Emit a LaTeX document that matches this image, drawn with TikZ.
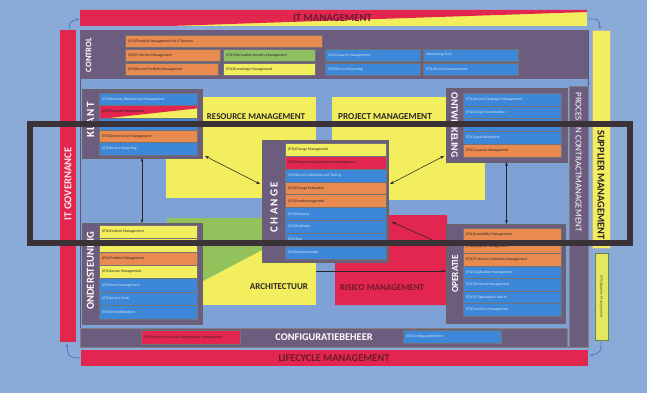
\documentclass[tikz,border=0pt]{standalone}
\usepackage{fontspec}
\setmainfont{Carlito}
\usetikzlibrary{arrows.meta}
\definecolor{bgblue}{HTML}{8AABD8}
\definecolor{inblue}{HTML}{7EA2D6}
\definecolor{frameline}{HTML}{5C5670}
\definecolor{plum}{HTML}{6C5C7E}
\definecolor{itred}{HTML}{E2264F}
\definecolor{ityellow}{HTML}{F3EE5E}
\definecolor{itorange}{HTML}{E98A50}
\definecolor{itblue}{HTML}{3D87D8}
\definecolor{itgreen}{HTML}{90C064}
\definecolor{areagreen}{HTML}{93C25C}
\definecolor{bandgrey}{HTML}{3A3236}
\definecolor{darktext}{HTML}{2B2526}
\definecolor{maroon}{HTML}{6B1A2C}
\definecolor{celltextlight}{HTML}{D9E7F7}
\definecolor{cyclearrow}{HTML}{4D78C2}

% one process cell: name, x, y, width, height, style, text
\newcommand{\itilcell}[7]{%
  \node[cellbox,#6,minimum width=#4,minimum height=#5] (#1) at (#2,#3)
    {\makebox[#4pt][l]{\hspace{3pt}#7}};}

\begin{document}
\begin{tikzpicture}[x=1pt,y=-1pt,
  plate/.style={anchor=north west,inner sep=0,outer sep=0},
  cellbox/.style={plate,draw=black!55,line width=0.3pt,
    font=\fontsize{3.8}{4}\selectfont,text=darktext},
  cor/.style={fill=itorange},
  cye/.style={fill=ityellow},
  cbl/.style={fill=itblue,text=celltextlight},
  cgr/.style={fill=itgreen},
  crd/.style={fill=itred},
  groupbox/.style={plate,fill=plum,draw=black!60,line width=0.5pt},
  vlabel/.style={text=white,font=\bfseries\fontsize{#1}{#1}\selectfont,inner sep=0},
  darklabel/.style={text=darktext,font=\bfseries\fontsize{#1}{#1}\selectfont,inner sep=0},
  redlabel/.style={text=maroon,font=\bfseries\fontsize{#1}{#1}\selectfont,inner sep=0},
  link/.style={draw=black!85,line width=0.55pt,
    arrows={Stealth[length=4pt,width=2.8pt]-Stealth[length=4pt,width=2.8pt]}},
  onelink/.style={draw=black!85,line width=0.55pt,
    arrows={-Stealth[length=4pt,width=2.8pt]}},
  cyclelink/.style={draw=cyclearrow,line width=0.8pt,
    arrows={-Stealth[length=3pt,width=2.6pt]}},
]
\useasboundingbox (0,0) rectangle (647,393);
\fill[bgblue] (0,0) rectangle (647,393);

% main frame with control band
\node[plate,fill=inblue,draw=frameline,line width=0.8pt,minimum width=508,minimum height=317] (frame) at (80,30) {};
\node[plate,fill=plum,minimum width=508,minimum height=49] (control) at (80,30) {};
\node[vlabel=8.5,rotate=90] (controllbl) at (88.5,55) {CONTROL};

\itilcell{f1}{125}{35}{197}{12}{cor}{(ITIL)Financial Management for IT Services}
\itilcell{f2}{125}{49}{95}{12}{cor}{(ITIL)IT Service Management}
\itilcell{f3}{223}{49}{92}{12}{cgr}{(ITIL)Information Security Management}
\itilcell{f4}{325}{49}{95}{12}{cbl}{(ITIL)Capacity Management}
\itilcell{f5}{423}{49}{95}{12}{cbl}{Monitoring Tools}
\itilcell{f6}{125}{63}{93}{12.5}{cor}{(ITIL)Service Portfolio Management}
\itilcell{f7}{223}{63}{92}{12.5}{cye}{(ITIL)Knowledge Management}
\itilcell{f8}{325}{63}{95}{12.5}{cbl}{(ITIL)Service Reporting}
\itilcell{f9}{423}{63}{95}{12.5}{cbl}{(ITIL)Service Measurement}

% coloured areas
\node[plate,fill=ityellow,minimum width=150,minimum height=101] (resource) at (166,97) {};
\node[plate,fill=ityellow,minimum width=153,minimum height=103] (project) at (332,97) {};
\node[plate,fill=ityellow,minimum width=114,minimum height=60] (archi) at (202,245) {};
\fill[areagreen] (167,218) -- (262,218) -- (262,250) -- (167,300) -- cycle;
\fill[itred] (388,215) -- (447,215) -- (447,305) -- (335,305) -- (335,262) -- (388,262) -- cycle;

\node[darklabel=8.9,anchor=base] (resourcelbl) at (256,120) {RESOURCE MANAGEMENT};
\node[darklabel=9.2,anchor=base] (projectlbl) at (385,120) {PROJECT MANAGEMENT};
\node[darklabel=9] (archilbl) at (279,287) {ARCHITECTUUR};
\node[redlabel=9] (risklbl) at (382,288) {RISICO MANAGEMENT};

% process and contract column, configuration band
\node[plate,fill=plum,draw=black!50,line width=0.4pt,minimum width=19,minimum height=261] (proces) at (569,86) {};
\node[rotate=-90,text=white,font=\fontsize{9}{9}\selectfont,inner sep=0] (proceslbl) at (578.5,162) {PROCES EN CONTRACTMANAGEMENT};
\node[plate,fill=plum,draw=black!50,line width=0.4pt,minimum width=487,minimum height=19] (config) at (80,328) {};
\node[vlabel=10.3] (configlbl) at (324,337.5) {CONFIGURATIEBEHEER};
\itilcell{cfg1}{141}{330}{99}{14}{crd}{(ITIL)Service Asset and Configuration Management}
\itilcell{cfg2}{403}{330}{98}{13}{cbl}{(ITIL)Configuratiebeheer}

% KLANT
\node[groupbox,minimum width=120,minimum height=69] (klant) at (82,89) {};
\node[vlabel=11,rotate=90] (klantlbl) at (90.5,120) {\addfontfeature{LetterSpace=12}KLANT};
\itilcell{k1}{99}{93}{98}{12.4}{cbl}{(ITIL)Business Relationship Management}
\itilcell{k2}{99}{105.4}{98}{12.4}{cye,path picture={\fill[itred] (path picture bounding box.north west) -- (path picture bounding box.north east) -- ([yshift=-3pt]path picture bounding box.north east) -- ([xshift=12pt]path picture bounding box.south west) -- (path picture bounding box.south west) -- cycle;}}{(ITIL)Demand Management}
\itilcell{k3}{99}{117.8}{98}{12.4}{cbl}{(ITIL)Service Catalogue Management}
\itilcell{k4}{99}{130.2}{98}{12.4}{cor}{(ITIL)Service Level Management}
\itilcell{k5}{99}{142.6}{98}{12.4}{cbl}{(ITIL)Service Reporting}

% ONTWIKKELING
\node[groupbox,minimum width=121,minimum height=74] (ontw) at (446,88) {};
\node[vlabel=9.9,rotate=-90] (ontwlbl) at (454.5,125) {ONTWIKKELING};
\itilcell{t1}{463}{93}{98}{12.8}{cbl}{(ITIL)Service Catalogue Management}
\itilcell{t2}{463}{105.8}{98}{12.8}{cbl}{(ITIL)Design Coordination}
\itilcell{t3}{463}{118.6}{98}{12.8}{cbl}{(ITIL)Service Design}
\itilcell{t4}{463}{131.4}{98}{12.8}{cbl}{(ITIL)Applicatiebeheer}
\itilcell{t5}{463}{144.2}{98}{12.8}{cor}{(ITIL)Capacity Management}

% CHANGE
\node[groupbox,minimum width=126,minimum height=122] (change) at (262,140) {};
\node[vlabel=11,rotate=90] (changelbl) at (274,207) {\addfontfeature{LetterSpace=20}CHANGE};
\itilcell{c1}{285}{143}{101}{12.9}{cye}{(ITIL)Change Management}
\itilcell{c2}{285}{155.9}{101}{12.9}{crd}{(ITIL)Release and Deployment Management}
\itilcell{c3}{285}{168.8}{101}{12.9}{cbl}{(ITIL)Service Validation and Testing}
\itilcell{c4}{285}{181.7}{101}{12.9}{cor}{(ITIL)Change Evaluation}
\itilcell{c5}{285}{194.6}{101}{12.9}{cor}{(ITIL)Eventmanagement}
\itilcell{c6}{285}{207.5}{101}{12.9}{cbl}{(ITIL)Ontwerp}
\itilcell{c7}{285}{220.4}{101}{12.9}{cbl}{(ITIL)Realisatie}
\itilcell{c8}{285}{233.3}{101}{12.9}{cbl}{(ITIL)Test}
\itilcell{c9}{285}{246.2}{101}{12.9}{cbl}{(ITIL)Implementatie}

% ONDERSTEUNING
\node[groupbox,minimum width=120,minimum height=101] (onder) at (82,223) {};
\node[vlabel=10.6,rotate=90] (onderlbl) at (90.5,271) {ONDERSTEUNING};
\itilcell{o1}{99}{225}{98}{13.4}{cye}{(ITIL)Incident Management}
\itilcell{o2}{99}{238.4}{98}{13.4}{cye}{(ITIL)Request Fulfilment}
\itilcell{o3}{99}{251.8}{98}{13.4}{cor}{(ITIL)Problem Management}
\itilcell{o4}{99}{265.2}{98}{13.4}{cye}{(ITIL)Access Management}
\itilcell{o5}{99}{278.6}{98}{13.4}{cbl}{(ITIL)Event Management}
\itilcell{o6}{99}{292}{98}{13.4}{cbl}{(ITIL)Service Desk}
\itilcell{o7}{99}{305.4}{98}{13.4}{cbl}{(ITIL)Werkplekbeheer}

% OPERATIE
\node[groupbox,minimum width=119,minimum height=99] (oper) at (446,224) {};
\node[vlabel=9.3,rotate=90] (operlbl) at (455,274) {OPERATIE};
\itilcell{p1}{463}{228}{98}{12.6}{cor}{(ITIL)Availability Management}
\itilcell{p2}{463}{240.6}{98}{12.6}{cor}{(ITIL)Capacity Management}
\itilcell{p3}{463}{253.2}{98}{12.6}{cor}{(ITIL)IT Service Continuity Management}
\itilcell{p4}{463}{265.8}{98}{12.6}{cbl}{(ITIL)Application Management}
\itilcell{p5}{463}{278.4}{98}{12.6}{cbl}{(ITIL)Technical Management}
\itilcell{p6}{463}{291}{98}{12.6}{cbl}{(ITIL)IT Operations Control}
\itilcell{p7}{463}{303.6}{98}{12.6}{cbl}{(ITIL)Facilities Management}

% connectors between the groups
\coordinate (chgL) at (260,184);
\coordinate (chgR) at (390,184);
\coordinate (riskA) at (392,222);
\coordinate (riskB) at (444,245);
\coordinate (archR) at (316,271);
\draw[link] (klant.south) -- (onder.north);
\draw[link] (ontw.south) -- (ontw.south |- oper.north);
\draw[link] ([xshift=3pt,yshift=2pt]klant.south east) -- (chgL);
\draw[link] ([xshift=-2pt,yshift=6pt]ontw.south west) -- (chgR);
\draw[link] (riskA) -- (riskB);
\draw[onelink] (archR) -- (oper.west |- archR);

% surrounding management bars
\node[plate,fill=ityellow,minimum width=507,minimum height=16,
  path picture={\fill[itred] (path picture bounding box.north west) -- (path picture bounding box.north east) -- ([yshift=-2pt]path picture bounding box.north east) -- ([xshift=90pt]path picture bounding box.south west) -- (path picture bounding box.south west) -- cycle;}] (itman) at (80,10) {};
\node[redlabel=10.7] (itmanlbl) at (332.5,18) {IT MANAGEMENT};

\node[fill=itred,rotate=90,minimum width=312,minimum height=16,inner sep=0] (gov) at (68,186) {};
\node[rotate=90,text=white!88!itred,font=\bfseries\fontsize{10.6}{11}\selectfont,inner sep=0] (govlbl) at (68,184) {IT GOVERNANCE};

\node[plate,fill=ityellow,draw=black!30,line width=0.3pt,minimum width=18,minimum height=218] (supp) at (592,30) {};
\node[darklabel=10.4,rotate=-90] (supplbl) at (601,185) {SUPPLIER MANAGEMENT};
\node[plate,fill=ityellow!85!itgreen,draw=itgreen!70!black,line width=0.6pt,minimum width=13,minimum height=87] (suppbox) at (595,253) {};
\node[rotate=-90,text=itgreen!50!black,font=\fontsize{3.8}{4}\selectfont,inner sep=0] (suppboxlbl) at (601.5,296.5) {(ITIL)Supplier Management};

\node[plate,fill=itred,minimum width=507,minimum height=16] (life) at (81,350) {};
\node[redlabel=10.4] (lifelbl) at (334,358.5) {LIFECYCLE MANAGEMENT};

% cycle arrows at the corners
\coordinate (cyA1) at (70,29);  \coordinate (cyA2) at (79,19);
\coordinate (cyB1) at (589,19); \coordinate (cyB2) at (600,29);
\coordinate (cyC1) at (601,342); \coordinate (cyC2) at (590,356);
\coordinate (cyD1) at (80,358); \coordinate (cyD2) at (67,344);
\draw[cyclelink] (cyA1) .. controls (69,22) .. (cyA2);
\draw[cyclelink] (cyB1) .. controls (599,19) .. (cyB2);
\draw[cyclelink] (cyC1) .. controls (601,352) .. (cyC2);
\draw[cyclelink] (cyD1) .. controls (68,357) .. (cyD2);

% highlight frame across the middle row
\node[plate,draw=bandgrey,line width=6pt,minimum width=600,minimum height=119] (focus) at (30,124) {};
\end{tikzpicture}
\end{document}
